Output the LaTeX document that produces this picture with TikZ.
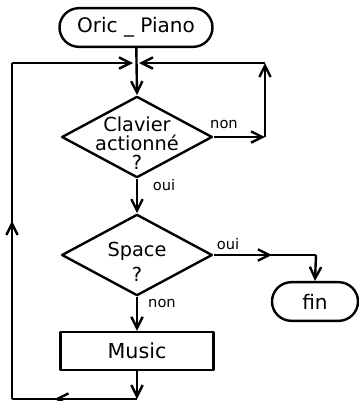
\documentclass[tikz,border=0pt]{standalone}
\usepackage{fontspec}
\setmainfont{DejaVu Sans}
\usetikzlibrary{shapes.geometric,shapes.misc,arrows.meta,decorations.markings}

\tikzset{
  pointe/.tip={Straight Barb[length=8.5pt,width=8.5pt]},
  fleche/.style={-pointe},
  milieu/.style={decoration={markings,mark=at position #1 with {\arrow{pointe}}},postaction={decorate}},
  terminal/.style={draw,rounded rectangle,minimum height=29pt,inner sep=0pt,font=\fontsize{15}{15}\selectfont},
  test/.style={draw,diamond,minimum width=113pt,minimum height=61pt,inner sep=0pt},
  texte/.style={align=center,font=\fontsize{14.5}{#1}\selectfont},
  bloc/.style={draw,rectangle,minimum width=115pt,minimum height=28.5pt,inner sep=0pt,font=\fontsize{15.5}{15}\selectfont},
  reponse/.style={font=\fontsize{11}{11}\selectfont}
}

\begin{document}
\begin{tikzpicture}[x=0.75pt,y=-0.75pt,line width=1.8pt,line join=round]
\useasboundingbox (0,0) rectangle (359,401);

% les blocs
\node[terminal,minimum width=114.75pt] (debut) at (136,27.5) {Oric \_ Piano};
\node[test,label={[texte=14pt,yshift=-4.5pt]center:Clavier\\actionné\\?}] (clavier) at (137,137) {};
\node[test,label={[texte=19pt,yshift=-5pt]center:Space\\?}] (space) at (137,255) {};
\node[bloc] (music) at (137,351) {Music};
\node[terminal,minimum width=64.5pt] (fin) at (315,301.5) {fin};

% points de passage
\coordinate (jonction) at (136,63);
\coordinate (hautgauche) at (12,63);
\coordinate (basgauche) at (12,399);
\coordinate (bas) at (137,399);
\coordinate (droite1) at (265,137);
\coordinate (droite2) at (265,63);
\coordinate (coude) at (316,255);

% reponses
\node[reponse] (non1) at (224,124) {non};
\node[reponse] (oui1) at (164,185) {oui};
\node[reponse] (oui2) at (228,244) {oui};
\node[reponse] (non2) at (162,303) {non};

% liaisons
\draw[fleche] (debut) -- (clavier.north);
\draw[fleche] (clavier.east) -- (droite1);
\draw[fleche] (droite1) -- (droite2);
\draw[fleche] (droite2) -- (139,63);
\draw[fleche] (clavier.south) -- (space.north);
\draw[milieu=0.57] (space.east) -- (coude);
\draw[fleche] (coude) -- (fin.north);
\draw[fleche] (space.south) -- (music.north);
\draw[fleche] (music.south) -- (bas);
\draw[milieu=0.66] (bas) -- (basgauche);
\draw[milieu=0.53] (basgauche) -- (hautgauche);
\draw[fleche] (hautgauche) -- (133,63);
\end{tikzpicture}
\end{document}
